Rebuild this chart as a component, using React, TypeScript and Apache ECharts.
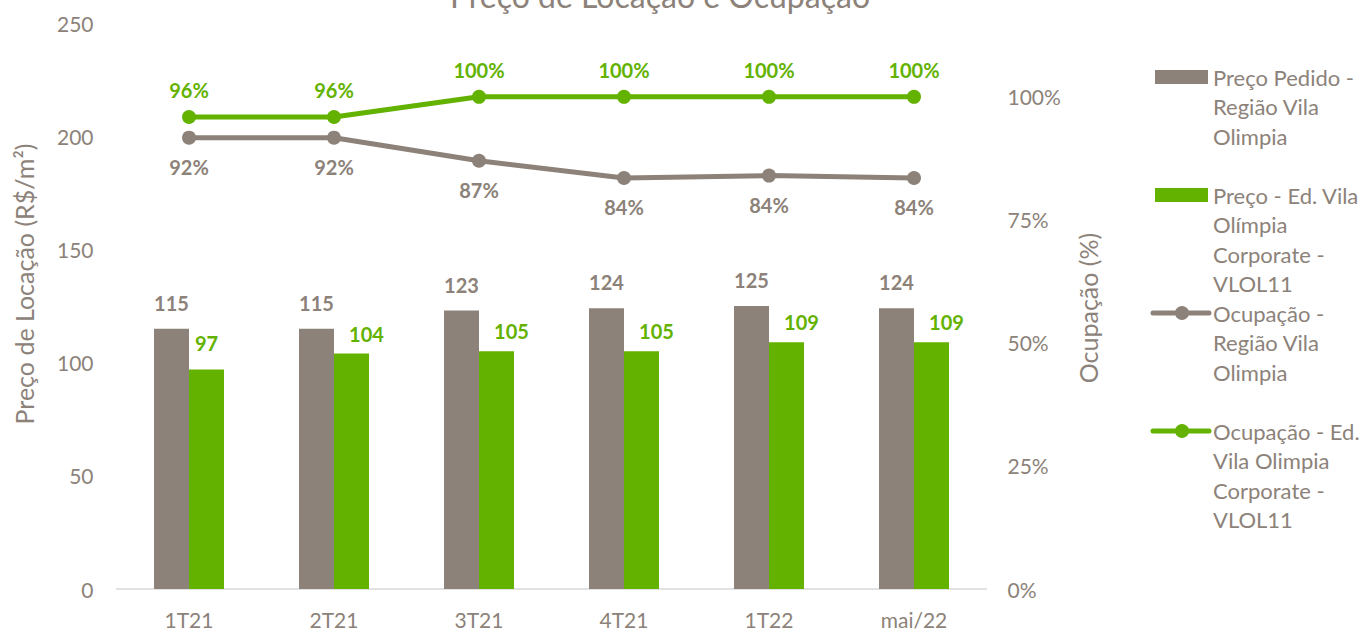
import React, { useEffect, useRef } from "react";
import * as echarts from "echarts";

const categories = ["1T21", "2T21", "3T21", "4T21", "1T22", "mai/22"];
const precoRegiao = [115, 115, 123, 124, 125, 124];
const precoEdificio = [97, 104, 105, 105, 109, 109];
const ocupRegiao = [91.7, 91.7, 87, 83.5, 84, 83.5];
const ocupEdificio = [95.9, 95.9, 100, 100, 100, 100];
const leftTicks = { min: 0, max: 250, interval: 50 };
const rightTicks = { min: 0, max: 115, interval: 25 };

const GRAY = "#8C8279";
const GREEN = "#63B200";
const TEXT = "#8C8279";
const FONT = "Lato, 'Open Sans', sans-serif";

const legendItems = [
  { name: "Preço Pedido - Região Vila Olimpia", text: "Preço Pedido -\nRegião Vila\nOlimpia", kind: "bar", color: GRAY },
  { name: "Preço - Ed. Vila Olímpia Corporate - VLOL11", text: "Preço - Ed. Vila\nOlímpia\nCorporate -\nVLOL11", kind: "bar", color: GREEN },
  { name: "Ocupação - Região Vila Olimpia", text: "Ocupação -\nRegião Vila\nOlimpia", kind: "line", color: GRAY },
  { name: "Ocupação - Ed. Vila Olimpia Corporate - VLOL11", text: "Ocupação - Ed.\nVila Olimpia\nCorporate -\nVLOL11", kind: "line", color: GREEN },
];
const legendFirstLineY = [77, 195, 313, 431];

export default function App() {
  const ref = useRef<HTMLDivElement>(null);
  useEffect(() => {
    if (!ref.current) return;
    const chart = echarts.init(ref.current, undefined, { renderer: "svg" });

    const graphics: any[] = [];
    legendItems.forEach((it, i) => {
      const y = legendFirstLineY[i];
      if (it.kind === "bar") {
        graphics.push({ type: "rect", shape: { x: 1155, y: y - 7, width: 53, height: 14 }, style: { fill: it.color } });
      } else {
        graphics.push({ type: "line", shape: { x1: 1153, y1: y, x2: 1209, y2: y }, style: { stroke: it.color, lineWidth: 5, lineCap: "round" } });
        graphics.push({ type: "circle", shape: { cx: 1182, cy: y, r: 7 }, style: { fill: it.color } });
      }
      graphics.push({
        type: "text",
        x: 1213,
        y: y - 14.75,
        style: { text: it.text, fontSize: 22, fontFamily: FONT, fill: TEXT, lineHeight: 29.5, verticalAlign: "top", align: "left" },
      });
    });
    graphics.push({
      type: "text", x: 24, y: 284, rotation: Math.PI / 2,
      style: { text: "Preço de Locação (R$/m²)", fontSize: 25, fontFamily: FONT, fill: TEXT, align: "center", verticalAlign: "middle" },
    });
    graphics.push({
      type: "text", x: 1088, y: 308, rotation: Math.PI / 2,
      style: { text: "Ocupação (%)", fontSize: 25, fontFamily: FONT, fill: TEXT, align: "center", verticalAlign: "middle" },
    });
    graphics.push({
      type: "text", x: 660, y: 11,
      style: { text: "Preço de Locação e Ocupação", fontSize: 32, fontFamily: FONT, fill: TEXT, align: "center", verticalAlign: "bottom" },
    });

    const greenBarData = precoEdificio.map((v, i) =>
      i === 0 ? v : { value: v, label: { offset: [15, 6] } }
    );

    chart.setOption({
      animation: false,
      textStyle: { fontFamily: FONT },
      grid: { left: 116.5, right: 374.5, top: 23, bottom: 42, containLabel: false },
      legend: { show: false },
      xAxis: {
        type: "category",
        data: categories,
        axisLine: { lineStyle: { color: "#D9D9D9", width: 1.5 } },
        axisTick: { show: false },
        axisLabel: { color: TEXT, fontSize: 21, margin: 20 },
      },
      yAxis: [
        {
          type: "value",
          min: leftTicks.min, max: leftTicks.max, interval: leftTicks.interval,
          axisLine: { show: false }, axisTick: { show: false }, splitLine: { show: false },
          axisLabel: { color: TEXT, fontSize: 21, margin: 23 },
        },
        {
          type: "value",
          min: rightTicks.min, max: rightTicks.max, interval: rightTicks.interval,
          axisLine: { show: false }, axisTick: { show: false }, splitLine: { show: false },
          axisLabel: { color: TEXT, fontSize: 21, margin: 21, formatter: (v: number) => (v <= 100 ? v + "%" : "") },
        },
      ],
      series: [
        {
          name: legendItems[0].name, type: "bar", data: precoRegiao, barWidth: 35, barGap: "0%",
          itemStyle: { color: GRAY },
          label: { show: true, position: "top", distance: 16, color: GRAY, fontWeight: "bold", fontSize: 20 },
        },
        {
          name: legendItems[1].name, type: "bar", data: greenBarData, barWidth: 35, barGap: "0%",
          itemStyle: { color: GREEN },
          label: { show: true, position: "top", distance: 16, color: GREEN, fontWeight: "bold", fontSize: 20 },
        },
        {
          name: legendItems[2].name, type: "line", yAxisIndex: 1, data: ocupRegiao,
          symbol: "circle", symbolSize: 14, lineStyle: { color: GRAY, width: 5 }, itemStyle: { color: GRAY },
          label: { show: true, position: "bottom", distance: 12, color: GRAY, fontWeight: "bold", fontSize: 20, formatter: (p: any) => Math.round(p.value) + "%" },
        },
        {
          name: legendItems[3].name, type: "line", yAxisIndex: 1, data: ocupEdificio,
          symbol: "circle", symbolSize: 14, lineStyle: { color: GREEN, width: 5 }, itemStyle: { color: GREEN },
          label: { show: true, position: "top", distance: 10, color: GREEN, fontWeight: "bold", fontSize: 20, formatter: (p: any) => Math.round(p.value) + "%" },
        },
      ],
      graphic: graphics,
    });
    return () => chart.dispose();
  }, []);
  return <div ref={ref} style={{ position: "absolute", left: 0, top: 0, width: 1361, height: 631 }} />;
}
